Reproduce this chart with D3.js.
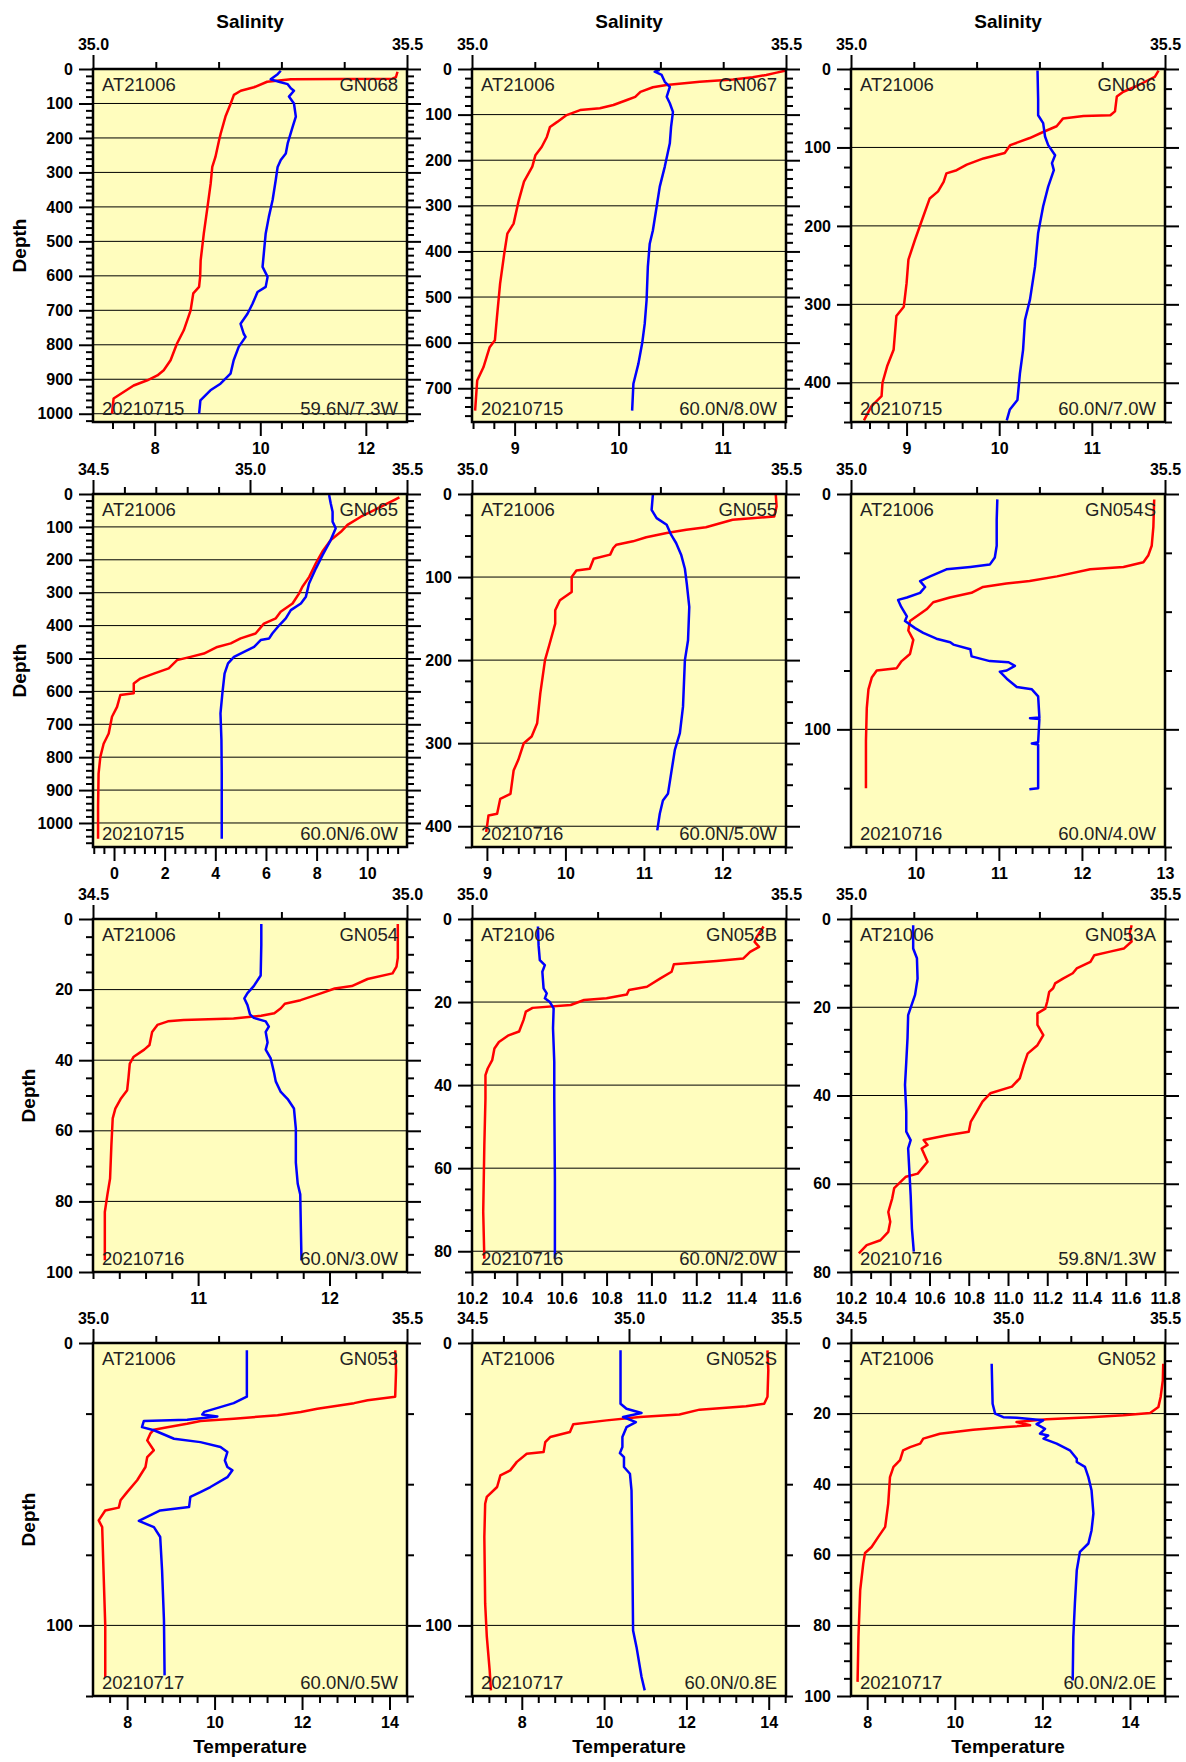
<!DOCTYPE html>
<html>
<head>
<meta charset="utf-8">
<script src="https://cdnjs.cloudflare.com/ajax/libs/d3/7.8.5/d3.min.js"></script>
<style>
  body { margin: 0; background: #fff; }
  svg { display: block; }
</style>
</head>
<body>
<svg id="chart" width="1186" height="1762"></svg>
<script>
// station metadata, in panel order (left to right, top to bottom)
var cruise = "AT21006";
var stations = ["GN068", "GN067", "GN066", "GN065", "GN055", "GN054S",
                "GN054", "GN053B", "GN053A", "GN053", "GN052S", "GN052"];
var dates = ["20210715", "20210715", "20210715", "20210715", "20210716", "20210716",
             "20210716", "20210716", "20210716", "20210717", "20210717", "20210717"];
var positions = ["59.6N/7.3W", "60.0N/8.0W", "60.0N/7.0W", "60.0N/6.0W", "60.0N/5.0W", "60.0N/4.0W",
                 "60.0N/3.0W", "60.0N/2.0W", "59.8N/1.3W", "60.0N/0.5W", "60.0N/0.8E", "60.0N/2.0E"];

// axis extents and tick steps [major, minor]
var tempDomains = [[6.83, 12.78], [8.59, 11.61], [8.4, 11.79], [-0.83, 11.57], [8.81, 12.81], [9.22, 13.0],
                   [10.2, 12.59], [10.2, 11.6], [10.2, 11.8], [7.22, 14.4], [6.79, 14.42], [7.63, 14.8]];
var tempSteps = [[2, 0.4], [1, 0.2], [1, 0.2], [2, 0.4], [1, 0.2], [1, 0.2],
                 [1, 0.2], [0.2, 0.1], [0.2, 0.1], [2, 0.4], [2, 0.4], [2, 0.4]];
var salDomains = [[35, 35.5], [35, 35.5], [35, 35.5], [34.5, 35.5], [35, 35.5], [35, 35.5],
                  [34.5, 35], [35, 35.5], [35, 35.5], [35, 35.5], [34.5, 35.5], [34.5, 35.5]];
var salSteps = [0.5, 0.1];
var depthMax = [1024, 774, 450, 1073, 425, 150, 100, 85, 80, 125, 125, 100];
var depthSteps = [[100, 20], [100, 20], [100, 25], [100, 20], [100, 25], [100, 25],
                  [20, 5], [20, 5], [20, 5], [100, 25], [100, 25], [20, 5]];

// profiles: [depth, value]
var gn068Temp = [[8,12.60],[24,12.57],[28,12.50],[30,10.58],[37,10.13],[53,9.88],[63,9.63],[75,9.50],[100,9.44],[138,9.34],[187,9.25],[206,9.22],[255,9.15],[284,9.09],[332,9.06],[400,9.00],[477,8.93],[555,8.87],[603,8.86],[632,8.84],[651,8.73],[700,8.68],[758,8.55],[797,8.42],[845,8.30],[874,8.17],[889,8.05],[903,7.86],[918,7.60],[937,7.41],[956,7.22],[1000,7.19]];
var gn068Sal = [[5,35.299],[15,35.294],[30,35.283],[37,35.296],[44,35.310],[56,35.315],[63,35.320],[80,35.312],[100,35.320],[138,35.323],[167,35.318],[216,35.310],[245,35.307],[264,35.299],[284,35.294],[322,35.291],[380,35.286],[429,35.280],[477,35.275],[535,35.272],[574,35.270],[603,35.278],[632,35.275],[647,35.262],[681,35.254],[710,35.246],[739,35.235],[768,35.240],[777,35.243],[806,35.232],[845,35.224],[884,35.219],[913,35.203],[932,35.187],[961,35.171],[1000,35.169]];

var gn067Temp = [[4,11.60],[8,11.52],[13,11.42],[18,11.29],[23,11.10],[28,10.78],[35,10.46],[40,10.33],[50,10.21],[61,10.16],[68,10.08],[79,9.95],[86,9.82],[90,9.63],[101,9.50],[116,9.41],[127,9.34],[149,9.31],[171,9.26],[189,9.20],[214,9.17],[247,9.09],[288,9.04],[339,8.99],[361,8.93],[405,8.90],[471,8.86],[544,8.83],[595,8.81],[610,8.76],[654,8.70],[683,8.64],[749,8.62]];
var gn067Sal = [[2,35.299],[6,35.291],[13,35.302],[28,35.307],[39,35.315],[61,35.310],[75,35.315],[94,35.320],[127,35.317],[163,35.315],[214,35.307],[258,35.299],[302,35.294],[354,35.288],[383,35.283],[434,35.280],[507,35.278],[559,35.275],[601,35.271],[646,35.265],[690,35.257],[749,35.255]];

var gn066Temp = [[2,11.72],[10,11.68],[22,11.48],[29,11.34],[35,11.27],[54,11.25],[59,11.20],[60,10.91],[63,10.69],[73,10.62],[80,10.48],[88,10.33],[97,10.12],[107,10.06],[114,9.83],[122,9.65],[129,9.54],[133,9.43],[144,9.40],[156,9.34],[165,9.25],[188,9.18],[218,9.09],[243,9.02],[273,9.00],[303,8.97],[315,8.89],[358,8.86],[379,8.79],[400,8.74],[417,8.73],[430,8.62],[448,8.54]];
var gn066Sal = [[2,35.297],[39,35.298],[59,35.298],[69,35.306],[86,35.309],[97,35.314],[110,35.325],[120,35.320],[129,35.323],[150,35.314],[175,35.306],[209,35.298],[252,35.293],[294,35.285],[320,35.277],[358,35.274],[388,35.269],[422,35.265],[434,35.253],[448,35.248]];

var gn065Temp = [[10,11.27],[23,10.94],[44,10.41],[69,9.75],[94,9.22],[115,8.96],[140,8.56],[175,8.23],[211,7.97],[252,7.71],[282,7.44],[302,7.31],[333,7.05],[358,6.58],[378,6.39],[394,5.92],[424,5.59],[439,5.00],[454,4.61],[465,4.08],[485,3.55],[495,3.02],[505,2.49],[530,2.16],[546,1.57],[561,1.04],[576,0.78],[606,0.78],[611,0.25],[647,0.12],[677,-0.08],[728,-0.21],[759,-0.41],[799,-0.54],[850,-0.61],[951,-0.63],[1048,-0.63]];
var gn065Sal = [[3,35.252],[28,35.257],[54,35.263],[84,35.263],[104,35.273],[140,35.257],[186,35.231],[226,35.210],[272,35.188],[312,35.178],[333,35.162],[353,35.130],[378,35.114],[399,35.093],[424,35.071],[439,35.061],[444,35.034],[465,35.013],[480,34.981],[495,34.949],[515,34.930],[546,34.919],[606,34.912],[667,34.906],[748,34.909],[850,34.910],[1048,34.910]];

var gn055Temp = [[1,12.68],[15,12.69],[27,12.66],[31,12.13],[40,11.79],[43,11.54],[47,11.29],[52,11.03],[57,10.86],[61,10.65],[65,10.61],[73,10.57],[78,10.36],[90,10.31],[92,10.14],[100,10.08],[118,10.08],[128,9.93],[140,9.87],[156,9.87],[180,9.80],[200,9.74],[240,9.68],[276,9.64],[292,9.57],[300,9.47],[320,9.40],[333,9.34],[361,9.30],[367,9.17],[385,9.13],[387,9.02],[401,9.00],[407,8.99]];
var gn055Sal = [[1,35.288],[19,35.286],[29,35.294],[37,35.310],[49,35.317],[59,35.325],[73,35.333],[90,35.339],[108,35.342],[136,35.346],[176,35.344],[200,35.339],[256,35.336],[288,35.331],[308,35.323],[337,35.317],[361,35.312],[369,35.304],[385,35.299],[405,35.295]];

var gn054sTemp = [[2.3,12.87],[14,12.86],[22,12.84],[26,12.80],[29,12.74],[31,12.50],[32,12.10],[35,11.70],[37,11.37],[38,11.09],[39.5,10.81],[42,10.67],[44,10.41],[46,10.21],[49,10.13],[54,9.93],[58,9.91],[62,9.97],[68,9.93],[71,9.83],[74,9.77],[75,9.53],[78,9.47],[83,9.43],[91,9.41],[105,9.40],[125,9.40]];
var gn054sSal = [[2.3,35.233],[11,35.232],[22,35.232],[27,35.229],[30,35.221],[31,35.190],[32,35.152],[35,35.126],[37,35.110],[39.5,35.118],[42,35.110],[44,35.089],[45,35.075],[48,35.080],[52,35.089],[54,35.086],[57,35.102],[59,35.115],[61.5,35.136],[63,35.158],[64,35.163],[66,35.190],[69,35.192],[71,35.221],[71.5,35.251],[73,35.261],[75,35.248],[75.5,35.237],[78.5,35.248],[82,35.264],[83,35.288],[86,35.298],[95,35.300],[95.3,35.285],[95.6,35.300],[105.5,35.298],[106,35.288],[106.5,35.298],[125,35.298],[125.5,35.284]];

var gn054Temp = [[1.4,12.52],[11,12.52],[13.5,12.51],[15.4,12.48],[17,12.29],[19,12.17],[19.7,12.04],[21,11.94],[23,11.78],[24,11.66],[25.3,11.63],[26.7,11.58],[27.4,11.48],[28.2,11.27],[28.6,10.89],[29,10.77],[30,10.69],[32,10.65],[35.7,10.63],[37,10.59],[39,10.51],[41,10.48],[45,10.47],[48.5,10.46],[51,10.41],[53.7,10.37],[56.5,10.35],[64,10.34],[73.5,10.33],[78,10.31],[83,10.29],[96.7,10.29]];
var gn054Sal = [[1.4,34.768],[7.4,34.768],[16,34.767],[19,34.756],[21,34.746],[22.5,34.741],[24.4,34.746],[27,34.750],[28,34.756],[29,34.775],[30.5,34.780],[32,34.775],[35,34.778],[37,34.775],[39.5,34.783],[43.3,34.788],[46,34.791],[49,34.799],[51,34.810],[53.7,34.820],[59.4,34.823],[69,34.823],[75,34.826],[78,34.830],[87.7,34.831],[96.7,34.832]];

var gn053bTemp = [[1.8,11.50],[4.3,11.47],[5.5,11.46],[6.7,11.48],[7.9,11.44],[9.5,11.41],[10.1,11.29],[10.9,11.10],[12.7,11.09],[14.3,11.04],[16.3,10.98],[17.1,10.90],[18.2,10.89],[19.1,10.80],[19.5,10.70],[20.7,10.64],[21.4,10.47],[22.3,10.44],[24.3,10.43],[27.1,10.41],[28.1,10.36],[29.6,10.32],[31.2,10.30],[34,10.29],[36,10.27],[37.6,10.26],[43.2,10.26],[54.5,10.255],[70.5,10.25],[81.8,10.255]];
var gn053bSal = [[1.8,35.105],[6.3,35.106],[9.9,35.108],[11.1,35.116],[12.7,35.112],[16.7,35.114],[17.9,35.119],[19.1,35.116],[20,35.124],[21.5,35.130],[26.3,35.129],[34.4,35.131],[43,35.131],[62.5,35.132],[81.8,35.132]];

var gn053aTemp = [[1.4,11.63],[3.2,11.62],[5.1,11.63],[6.7,11.59],[7.4,11.52],[8.2,11.44],[9.7,11.42],[11.2,11.35],[12.3,11.33],[13.5,11.28],[14.6,11.24],[15.7,11.23],[16.5,11.21],[18.7,11.20],[20.3,11.19],[21.4,11.15],[24,11.15],[26.3,11.18],[28.6,11.15],[30.5,11.10],[33.1,11.08],[36.1,11.06],[38,11.02],[39.5,10.91],[41.4,10.87],[43.7,10.84],[46,10.81],[48.2,10.80],[49,10.69],[50.1,10.57],[51.2,10.59],[52,10.56],[55,10.59],[57.7,10.54],[58.4,10.48],[61,10.42],[63.3,10.41],[66.4,10.39],[68.6,10.40],[70.9,10.39],[72.8,10.35],[73.9,10.28],[75.8,10.24]];
var gn053aSal = [[1.4,35.099],[6.7,35.099],[8.9,35.105],[13.5,35.106],[17.2,35.102],[21.8,35.091],[27,35.090],[32.4,35.088],[37.6,35.086],[43.7,35.088],[48.2,35.088],[50.1,35.095],[52,35.091],[57.3,35.093],[62.6,35.095],[70.1,35.097],[75.4,35.100]];

var gn053Temp = [[2.6,14.13],[9.7,14.15],[19,14.13],[20.3,13.50],[21.3,13.19],[23.3,12.35],[24.4,11.97],[25.6,11.44],[26.8,10.44],[27.6,9.68],[28.6,9.37],[29.8,8.92],[30.7,8.61],[32.1,8.53],[34.5,8.46],[38,8.61],[40.4,8.46],[43.9,8.42],[48.6,8.23],[52.8,8.00],[55.7,7.85],[58.3,7.81],[59.3,7.50],[62.8,7.35],[65.2,7.43],[80.5,7.46],[100,7.50],[118.3,7.50]];
var gn053Sal = [[2.6,35.245],[19,35.245],[21.3,35.224],[22.9,35.200],[24.4,35.177],[25.3,35.174],[26,35.198],[27.2,35.150],[27.6,35.081],[29.8,35.078],[30.9,35.097],[33.9,35.129],[35.1,35.171],[36.8,35.203],[38.6,35.214],[41.6,35.210],[43.9,35.214],[45.1,35.222],[47.5,35.214],[51,35.187],[52.8,35.171],[54.5,35.155],[58.1,35.153],[59.3,35.107],[61.6,35.086],[63,35.073],[65.2,35.097],[68.7,35.107],[80.5,35.110],[98.2,35.113],[117.7,35.114]];

var gn052sTemp = [[2.6,13.97],[9.7,13.99],[19,13.97],[21.5,13.89],[22.4,13.45],[23.6,12.32],[25.3,11.83],[26.2,10.87],[27.4,10.06],[28.8,9.25],[31.5,9.17],[33.3,8.69],[35.1,8.57],[38.6,8.53],[39.2,8.12],[42.1,7.88],[45.1,7.72],[46.9,7.48],[51,7.40],[54.5,7.15],[56.9,7.11],[68.7,7.09],[92.3,7.11],[104,7.15],[116,7.22],[123,7.25]];
var gn052sSal = [[2.6,34.973],[21.5,34.973],[23.3,34.992],[24.8,35.040],[26.2,34.981],[28,35.022],[29.8,34.992],[33.3,34.979],[36.8,34.979],[39,34.971],[40.4,34.984],[43.9,34.984],[46.3,35.003],[52.2,35.008],[68.7,35.010],[101.8,35.013],[107.7,35.024],[118.3,35.040],[123,35.050]];

var gn052Temp = [[5.9,14.76],[10.6,14.75],[15.3,14.70],[18.1,14.65],[19.8,14.46],[20.5,13.85],[21,13.09],[21.6,12.10],[22.4,11.41],[23.3,11.72],[23.8,11.18],[24.6,10.42],[25.7,9.66],[27.1,9.28],[28.5,9.21],[29.5,8.98],[30.4,8.82],[33.2,8.75],[35.1,8.60],[38,8.52],[45.5,8.48],[52.1,8.41],[55,8.25],[57.8,8.10],[59.5,7.95],[62.5,7.91],[70,7.84],[83.3,7.80],[96,7.78]];
var gn052Sal = [[5.9,34.948],[17.2,34.951],[20,34.959],[21,34.985],[21.2,35.028],[21.9,35.112],[23,35.091],[24.3,35.118],[25.7,35.102],[26.2,35.128],[27.1,35.113],[28.5,35.155],[30.4,35.197],[32.8,35.219],[33.7,35.219],[35.1,35.245],[38,35.256],[41.7,35.266],[48.3,35.272],[53.1,35.266],[56.8,35.256],[59.2,35.229],[64.4,35.219],[73.8,35.213],[83.3,35.208],[95.6,35.206]];

var tempProfiles = [gn068Temp, gn067Temp, gn066Temp, gn065Temp, gn055Temp, gn054sTemp,
                    gn054Temp, gn053bTemp, gn053aTemp, gn053Temp, gn052sTemp, gn052Temp];
var salProfiles = [gn068Sal, gn067Sal, gn066Sal, gn065Sal, gn055Sal, gn054sSal,
                   gn054Sal, gn053bSal, gn053aSal, gn053Sal, gn052sSal, gn052Sal];

var font = "'Liberation Sans', Arial, Helvetica, sans-serif";
var svg = d3.select("#chart");
var colLeft = [93, 472, 851];
var rowTop = [69, 494, 919, 1343];
var pw = 314, ph = 353;

function ticksOf(domain, step) {
  var lo = Math.ceil(domain[0] / step - 1e-6), hi = Math.floor(domain[1] / step + 1e-6);
  return d3.range(lo, hi + 1).map(function (k) { return Math.round(k * step * 1e4) / 1e4; });
}
function minorOf(domain, step, major) {
  return ticksOf(domain, step).filter(function (v) {
    return Math.abs(v / major - Math.round(v / major)) > 1e-6;
  });
}

function drawAxis(g, axisFn, scale, majors, minors, fmt, pad, transform) {
  var a = g.append("g").attr("transform", transform || null);
  a.append("g").call(axisFn(scale).tickValues(minors).tickSize(7).tickSizeOuter(0).tickFormat(""));
  a.append("g").call(axisFn(scale).tickValues(majors).tickSize(14).tickSizeOuter(0)
    .tickPadding(pad).tickFormat(fmt || ""));
  a.selectAll(".domain").remove();
  a.selectAll("line").attr("stroke", "#000").attr("stroke-width", 2);
  a.selectAll("text")
    .attr("fill", "#000")
    .style("font-family", font)
    .style("font-size", "16px")
    .style("font-weight", "bold");
  return a;
}

stations.forEach(function (name, i) {
  var col = i % 3, row = Math.floor(i / 3);
  var g = svg.append("g").attr("transform", "translate(" + colLeft[col] + "," + rowTop[row] + ")");

  var x = d3.scaleLinear().domain(tempDomains[i]).range([0, pw]);
  var s = d3.scaleLinear().domain(salDomains[i]).range([0, pw]);
  var y = d3.scaleLinear().domain([0, depthMax[i]]).range([0, ph]);

  g.append("rect").attr("width", pw).attr("height", ph).attr("fill", "#fffdbe");

  var clipId = "clip" + i;
  g.append("clipPath").attr("id", clipId)
    .append("rect").attr("width", pw).attr("height", ph);

  var depthMajors = ticksOf([0, depthMax[i]], depthSteps[i][0]);
  g.selectAll(".grid")
    .data(depthMajors.filter(function (d) { return d > 0 && d < depthMax[i]; }))
    .enter().append("line")
      .attr("x1", 0).attr("x2", pw)
      .attr("y1", function (d) { return y(d); })
      .attr("y2", function (d) { return y(d); })
      .attr("stroke", "#000")
      .attr("stroke-width", 1);

  var tline = d3.line().x(function (d) { return x(d[1]); }).y(function (d) { return y(d[0]); });
  var sline = d3.line().x(function (d) { return s(d[1]); }).y(function (d) { return y(d[0]); });

  var lines = g.append("g").attr("clip-path", "url(#" + clipId + ")");
  lines.append("path").attr("d", tline(tempProfiles[i]))
    .attr("fill", "none").attr("stroke", "#ff0000").attr("stroke-width", 2.5)
    .attr("stroke-linejoin", "round");
  lines.append("path").attr("d", sline(salProfiles[i]))
    .attr("fill", "none").attr("stroke", "#0000ff").attr("stroke-width", 2.5)
    .attr("stroke-linejoin", "round");

  g.append("rect").attr("width", pw).attr("height", ph)
    .attr("fill", "none").attr("stroke", "#000").attr("stroke-width", 2.5);

  // depth: left (labelled) and right
  var dMinor = minorOf([0, depthMax[i]], depthSteps[i][1], depthSteps[i][0]);
  var left = drawAxis(g, d3.axisLeft, y, depthMajors, dMinor, d3.format("d"), 6);
  drawAxis(g, d3.axisRight, y, depthMajors, dMinor, null, 6, "translate(" + pw + ",0)");

  // salinity on top, temperature on bottom
  var sd = salDomains[i];
  drawAxis(g, d3.axisTop, s, ticksOf(sd, salSteps[0]), minorOf(sd, salSteps[1], salSteps[0]),
    d3.format(".1f"), 5);
  var td = tempDomains[i], ts = tempSteps[i];
  drawAxis(g, d3.axisBottom, x, ticksOf(td, ts[0]), minorOf(td, ts[1], ts[0]),
    d3.format(ts[0] < 1 ? ".1f" : "d"), 6.5, "translate(0," + ph + ")");

  // station annotations
  var notes = [
    {t: cruise, x: 9, y: 22, a: "start"},
    {t: name, x: pw - 9, y: 22, a: "end"},
    {t: dates[i], x: 9, y: ph - 7.5, a: "start"},
    {t: positions[i], x: pw - 9, y: ph - 7.5, a: "end"}
  ];
  g.selectAll(".note").data(notes).enter().append("text")
    .attr("x", function (d) { return d.x; })
    .attr("y", function (d) { return d.y; })
    .attr("text-anchor", function (d) { return d.a; })
    .attr("fill", "#222")
    .style("font-family", font)
    .style("font-size", "18.5px")
    .text(function (d) { return d.t; });

  var title = function (sel) {
    return sel.attr("text-anchor", "middle").attr("fill", "#000")
      .style("font-family", font).style("font-size", "19px").style("font-weight", "bold");
  };
  if (row === 0) {
    g.append("text").attr("x", pw / 2).attr("y", -41).call(title).text("Salinity");
  }
  if (row === 3) {
    g.append("text").attr("x", pw / 2).attr("y", ph + 57).call(title).text("Temperature");
  }
  if (col === 0) {
    var widest = 0;
    left.selectAll("text").each(function () { widest = Math.max(widest, this.getComputedTextLength()); });
    var tx = -20 - widest - 11;
    g.append("text").attr("transform", "translate(" + tx + "," + (ph / 2) + ") rotate(-90)")
      .call(title).text("Depth");
  }
});
</script>
</body>
</html>
